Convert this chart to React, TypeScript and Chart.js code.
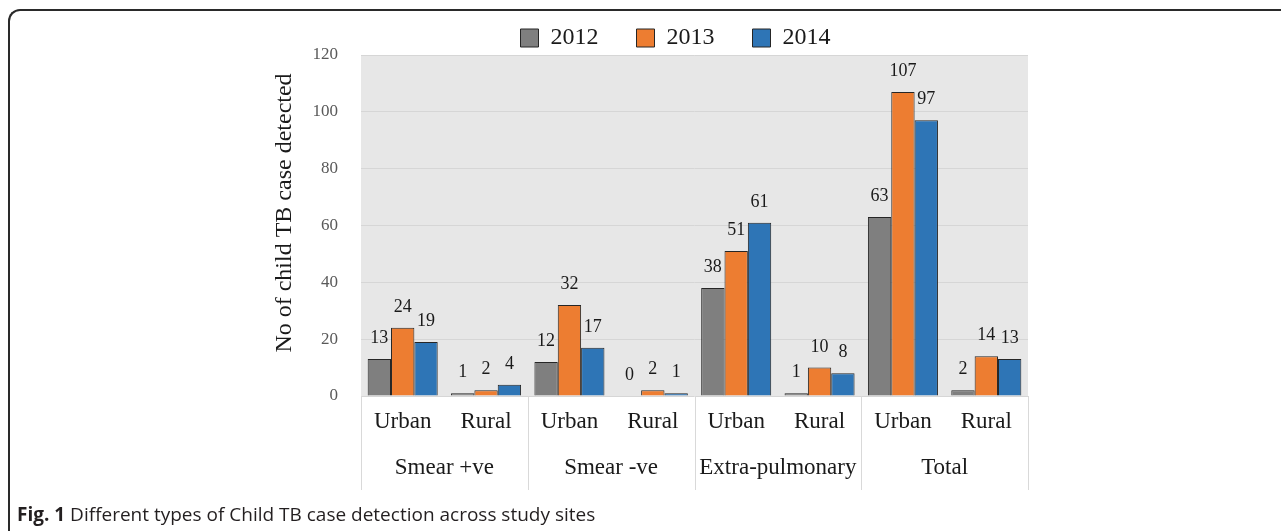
import React, { useEffect, useRef } from "react";
import { Chart, registerables } from "chart.js";

Chart.register(...registerables);

const categories = ["Urban", "Rural", "Urban", "Rural", "Urban", "Rural", "Urban", "Rural"];
const groups = ["Smear +ve", "Smear -ve", "Extra-pulmonary", "Total"];
const seriesNames = ["2012", "2013", "2014"];
const values2012 = [13, 1, 12, 0, 38, 1, 63, 2];
const values2013 = [24, 2, 32, 2, 51, 10, 107, 14];
const values2014 = [19, 4, 17, 1, 61, 8, 97, 13];
const seriesColors = ["#7f7f7f", "#ed7d31", "#2e75b6"];
const yMin = 0;
const yMax = 120;
const yStep = 20;
const yTitle = "No of child TB case detected";
const captionBold = "Fig. 1";
const captionText = " Different types of Child TB case detection across study sites";

const SERIF = "'Liberation Serif', 'Times New Roman', serif";
const LEGEND_SHIFT = 31;

const decorPlugin = {
  id: "decor",
  afterLayout(chart: any) {
    const lg = chart.legend;
    if (lg) {
      lg.left += LEGEND_SHIFT;
      lg.right += LEGEND_SHIFT;
    }
  },
  beforeDraw(chart: any) {
    const { ctx, chartArea } = chart;
    ctx.save();
    ctx.fillStyle = "#e7e7e7";
    ctx.fillRect(chartArea.left, chartArea.top, chartArea.right - chartArea.left, chartArea.bottom - chartArea.top);
    ctx.restore();
  },
  afterDraw(chart: any) {
    const { ctx, chartArea } = chart;
    const x2 = chart.scales.x2;
    ctx.save();
    // group separators
    const n = categories.length;
    const step = (chartArea.right - chartArea.left) / n;
    ctx.strokeStyle = "#d9d9d9";
    ctx.lineWidth = 1;
    for (let k = 0; k <= n; k += 2) {
      const px = Math.round(chartArea.left + k * step) + 0.5;
      ctx.beginPath();
      ctx.moveTo(px, chartArea.bottom);
      ctx.lineTo(px, x2.bottom);
      ctx.stroke();
    }
    // y-axis title
    ctx.fillStyle = "#1a1a1a";
    ctx.font = `24px ${SERIF}`;
    ctx.textAlign = "center";
    ctx.textBaseline = "middle";
    ctx.translate(285, 213);
    ctx.rotate(-Math.PI / 2);
    ctx.fillText(yTitle, 0, 0);
    ctx.setTransform(1, 0, 0, 1, 0, 0);
    // data labels
    ctx.font = `18px ${SERIF}`;
    ctx.fillStyle = "#1a1a1a";
    ctx.textAlign = "center";
    ctx.textBaseline = "alphabetic";
    chart.data.datasets.forEach((ds: any, i: number) => {
      const meta = chart.getDatasetMeta(i);
      meta.data.forEach((el: any, j: number) => {
        ctx.fillText(String(ds.data[j]), el.x, el.y - 16);
      });
    });
    ctx.restore();
  },
};

function ChartCanvas() {
  const ref = useRef<HTMLCanvasElement | null>(null);
  useEffect(() => {
    if (!ref.current) return;
    const chart = new Chart(ref.current, {
      type: "bar",
      data: {
        labels: categories,
        datasets: [values2012, values2013, values2014].map((vals, i) => ({
          label: seriesNames[i],
          data: vals,
          backgroundColor: seriesColors[i],
          borderColor: "#262626",
          borderWidth: 1,
          xAxisID: "x",
          yAxisID: "y",
          categoryPercentage: 0.84,
          barPercentage: 1,
        })),
      },
      options: {
        responsive: false,
        animation: false,
        layout: { padding: { top: -12, left: 261, right: 253, bottom: 41 } },
        plugins: {
          legend: {
            position: "top",
            maxHeight: 67,
            labels: {
              boxWidth: 18,
              boxHeight: 18,
              padding: 38,
              color: "#1a1a1a",
              font: { family: SERIF, size: 24 },
            },
          },
          tooltip: { enabled: false },
        },
        scales: {
          x: {
            type: "category",
            position: "bottom",
            weight: 0,
            offset: true,
            grid: { display: false, drawTicks: false },
            border: { display: false },
            ticks: { color: "#1a1a1a", padding: 12, font: { family: SERIF, size: 23 }, maxRotation: 0, autoSkip: false },
            afterFit: (s: any) => { s.height = 45; },
          },
          x2: {
            type: "category",
            position: "bottom",
            weight: 1,
            offset: true,
            labels: groups,
            grid: { display: false, drawTicks: false },
            border: { display: false },
            ticks: { color: "#1a1a1a", padding: 13, font: { family: SERIF, size: 23 }, maxRotation: 0, autoSkip: false },
            afterFit: (s: any) => { s.height = 49; },
          },
          y: {
            type: "linear",
            min: yMin,
            max: yMax,
            ticks: { stepSize: yStep, color: "#595959", padding: 23, font: { family: SERIF, size: 17 } },
            grid: { color: "#d6d6d6", lineWidth: 1, drawTicks: false },
            border: { display: false },
            afterFit: (s: any) => { s.width = 100; },
          },
        },
      },
      plugins: [decorPlugin],
    } as any);
    return () => chart.destroy();
  }, []);
  return <canvas ref={ref} width={1281} height={531} style={{ position: "absolute", left: 0, top: 0, width: 1281, height: 531 }} />;
}

export default function App() {
  return (
    <div style={{ position: "absolute", left: 0, top: 0, width: 1281, height: 531, overflow: "hidden", background: "#fff" }}>
      <div
        style={{
          position: "absolute",
          left: 8,
          top: 9,
          width: 1400,
          height: 600,
          borderLeft: "2px solid #2a2a2a",
          borderTop: "2px solid #2a2a2a",
          borderTopLeftRadius: 12,
          boxSizing: "border-box",
        }}
      />
      <ChartCanvas />
      <div
        style={{
          position: "absolute",
          left: 17,
          top: 501,
          fontFamily: "'Open Sans', sans-serif",
          fontSize: 19,
          color: "#231f20",
          whiteSpace: "nowrap",
        }}
      >
        <b>{captionBold}</b>
        <span>{captionText}</span>
      </div>
    </div>
  );
}
